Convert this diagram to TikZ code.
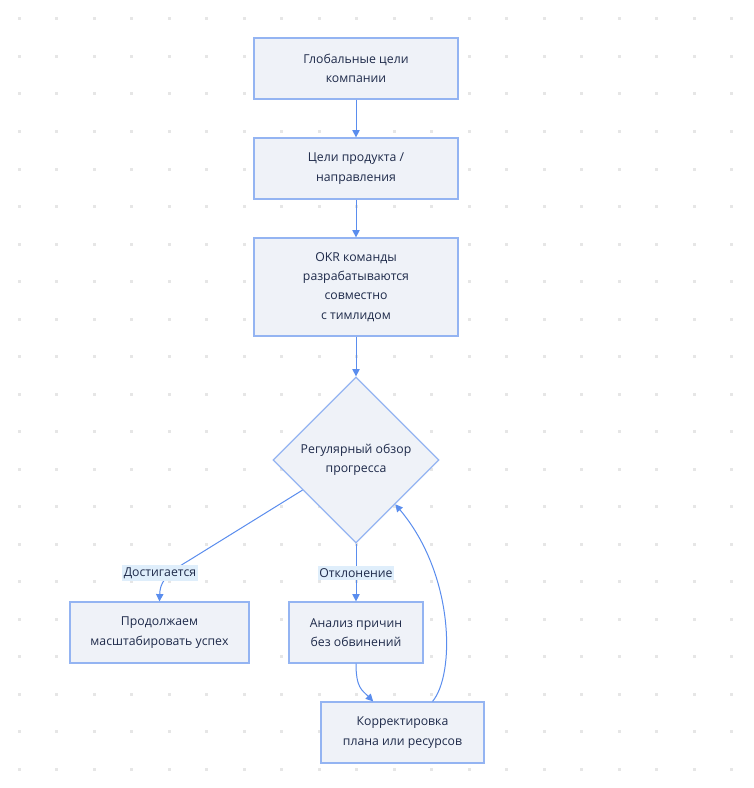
\documentclass[tikz,border=0pt]{standalone}
\usepackage{fontspec}
\setmainfont{Open Sans}
\usetikzlibrary{shapes.geometric,arrows.meta,calc}
\definecolor{boxfill}{HTML}{EFF2F8}
\definecolor{boxline}{HTML}{94B4F2}
\definecolor{arrowc}{HTML}{5A8DEE}
\definecolor{txt}{HTML}{1E2A4A}
\definecolor{lblbg}{HTML}{DFEEFB}
\definecolor{dotc}{HTML}{E6E6E6}
\tikzset{
  box/.style={draw=boxline, fill=boxfill, line width=0.9pt, align=center, text=txt,
    font=\fontsize{9.2}{14.5}\selectfont, inner sep=0pt},
  dia/.style={shape=diamond, draw=boxline, fill=boxfill, line width=0.9pt, align=center,
    text=txt, font=\fontsize{9.2}{14.5}\selectfont, inner sep=0pt,
    minimum width=124.5pt, minimum height=124.5pt},
  arr/.style={draw=arrowc, line width=0.75pt, -{Triangle[length=5.5pt,width=5.5pt]}},
  lbl/.style={fill=lblbg, text=txt, font=\fontsize{9.2}{12}\selectfont, inner xsep=1pt, inner ysep=2pt}
}
\begin{document}
\begin{tikzpicture}[x=0.75pt,y=-0.75pt]
\useasboundingbox (0,0) rectangle (753,788);
\fill[white] (0,0) rectangle (753,788);
\foreach \i in {0,...,19}{
  \foreach \j in {0,...,20}{
    \fill[dotc] ({19+37.5*\i-1.5},{19+37.5*\j-1.5}) rectangle ++(3,3);
  }
}
\node[box, minimum width=153pt, minimum height=45.75pt] (b1) at (356,68.5) {Глобальные цели\\компании};
\node[box, minimum width=153pt, minimum height=45.75pt] (b2) at (356,168.5) {Цели продукта /\\направления};
\node[box, minimum width=153pt, minimum height=73.5pt] (b3) at (356,287) {OKR команды\\разрабатываются\\совместно\\с тимлидом};
\node[dia] (d) at (356,460) {Регулярный обзор\\прогресса};
\node[box, minimum width=134.25pt, minimum height=45.75pt] (p) at (159.5,632.5) {Продолжаем\\масштабировать успех};
\node[box, minimum width=100.5pt, minimum height=45.75pt] (a) at (356,632.5) {Анализ причин\\без обвинений};
\node[box, minimum width=122.25pt, minimum height=45.75pt] (k) at (402.5,732.5) {Корректировка\\плана или ресурсов};

\draw[arr] (b1) -- (b2);
\draw[arr] (b2) -- (b3);
\draw[arr] (b3) -- (d);

\coordinate (s1) at ($(d.west)!0.36!(d.south)$);
\coordinate (m1) at (188,561);
\draw[arr] (s1) -- (m1) .. controls (164,575) and (160,584) .. (p.north);
\node[lbl] (l1) at (160,573) {Достигается};

\draw[arr] (d.south) -- (a.north);
\node[lbl] (l2) at (356,573) {Отклонение};

\coordinate (k1) at ([xshift=-22pt]k.north);
\draw[arr] (a.south) .. controls (356,688) and (362,690) .. (k1);

\coordinate (k2) at ([xshift=22.5pt]k.north);
\coordinate (e2) at ($(d.east)!0.53!(d.south)$);
\draw[arr] (k2) .. controls (455,675) and (455,575) .. (e2);
\end{tikzpicture}
\end{document}
